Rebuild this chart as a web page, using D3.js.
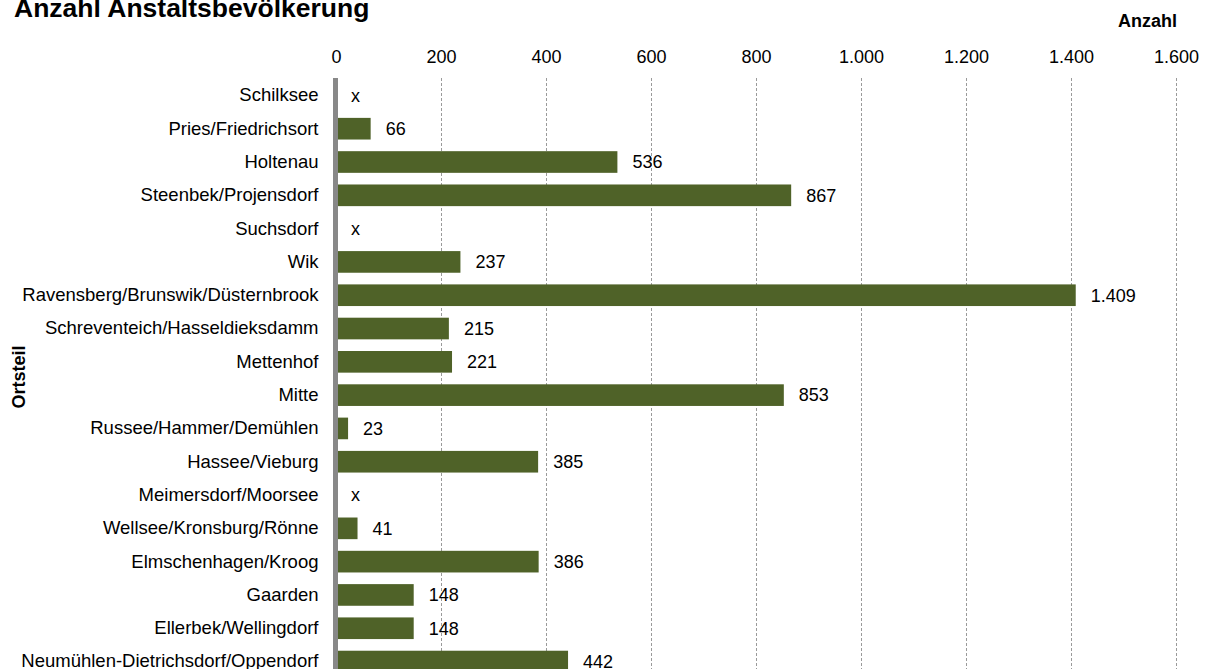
<!DOCTYPE html>
<html>
<head>
<meta charset="utf-8">
<script src="https://cdn.jsdelivr.net/npm/d3@7"></script>
<style>
  html, body { margin: 0; padding: 0; background: #fff; }
  svg { display: block; font-family: "Liberation Sans", Arial, sans-serif; }
</style>
</head>
<body>
<svg id="chart" width="1205" height="669"></svg>
<script>
const categories = [
  "Schilksee", "Pries/Friedrichsort", "Holtenau", "Steenbek/Projensdorf", "Suchsdorf",
  "Wik", "Ravensberg/Brunswik/Düsternbrook", "Schreventeich/Hasseldieksdamm", "Mettenhof",
  "Mitte", "Russee/Hammer/Demühlen", "Hassee/Vieburg", "Meimersdorf/Moorsee",
  "Wellsee/Kronsburg/Rönne", "Elmschenhagen/Kroog", "Gaarden", "Ellerbek/Wellingdorf",
  "Neumühlen-Dietrichsdorf/Oppendorf"
];
const values = [null, 66, 536, 867, null, 237, 1409, 215, 221, 853, 23, 385, null, 41, 386, 148, 148, 442];
const tickValues = [0, 200, 400, 600, 800, 1000, 1200, 1400, 1600];
const title = "Anzahl Anstaltsbevölkerung";
const xTitle = "Anzahl";
const yTitle = "Ortsteil";

const de = d3.formatLocale({decimal: ",", thousands: ".", grouping: [3], currency: ["", " €"]});
const fmt = de.format(",d");

const svg = d3.select("#chart");
const x = d3.scaleLinear().domain([0, 1600]).range([336, 1176]);
const y = d3.scaleBand().domain(categories).range([78.75, 678.2]).paddingInner(0.35).paddingOuter(0.175);

// gridlines
svg.append("g").selectAll("line").data(tickValues.filter(d => d > 0)).join("line")
  .attr("x1", d => Math.round(x(d)) + 0.5).attr("x2", d => Math.round(x(d)) + 0.5)
  .attr("y1", 78).attr("y2", 669)
  .attr("stroke", "#9a9a9a").attr("stroke-width", 1).attr("stroke-dasharray", "3,2");

// top axis labels
const xAxis = d3.axisTop(x).tickValues(tickValues).tickFormat(fmt).tickSize(0).tickPadding(0);
const gx = svg.append("g").attr("transform", "translate(0,63)").call(xAxis);
gx.select(".domain").remove();
gx.selectAll("text").attr("font-size", 18).attr("fill", "#000")
  .attr("font-family", "Liberation Sans, Arial, sans-serif").attr("dy", 0);

// bars
const rows = categories.map((c, i) => ({c, v: values[i]}));
svg.append("g").selectAll("rect").data(rows.filter(d => d.v != null)).join("rect")
  .attr("x", x(0)).attr("y", d => y(d.c))
  .attr("width", d => x(d.v) - x(0)).attr("height", y.bandwidth())
  .attr("fill", "#4f6228");

// value labels
svg.append("g").selectAll("text").data(rows).join("text")
  .attr("x", d => x(d.v == null ? 0 : d.v) + 15)
  .attr("y", d => y(d.c) + y.bandwidth() / 2)
  .attr("dy", "0.35em")
  .attr("font-size", 18).attr("fill", "#000")
  .text(d => d.v == null ? "x" : fmt(d.v));

// left axis
const yAxis = d3.axisLeft(y).tickSize(0).tickPadding(0);
const gy = svg.append("g").attr("transform", "translate(318.5,0)").call(yAxis);
gy.select(".domain").remove();
gy.selectAll("text").attr("font-size", 18.5).attr("fill", "#000")
  .attr("font-family", "Liberation Sans, Arial, sans-serif");

svg.append("line").attr("x1", 335.5).attr("x2", 335.5).attr("y1", 78).attr("y2", 669)
  .attr("stroke", "#888").attr("stroke-width", 5);

// titles
svg.append("text").attr("x", 14).attr("y", 17).attr("font-size", 26.5).attr("font-weight", "bold")
  .attr("fill", "#000").text(title);
svg.append("text").attr("x", 1147.5).attr("y", 27).attr("text-anchor", "middle")
  .attr("font-size", 18).attr("font-weight", "bold").attr("fill", "#000").text(xTitle);
svg.append("text").attr("transform", "translate(25,377) rotate(-90)").attr("text-anchor", "middle")
  .attr("font-size", 18).attr("font-weight", "bold").attr("fill", "#000").text(yTitle);
</script>
</body>
</html>
